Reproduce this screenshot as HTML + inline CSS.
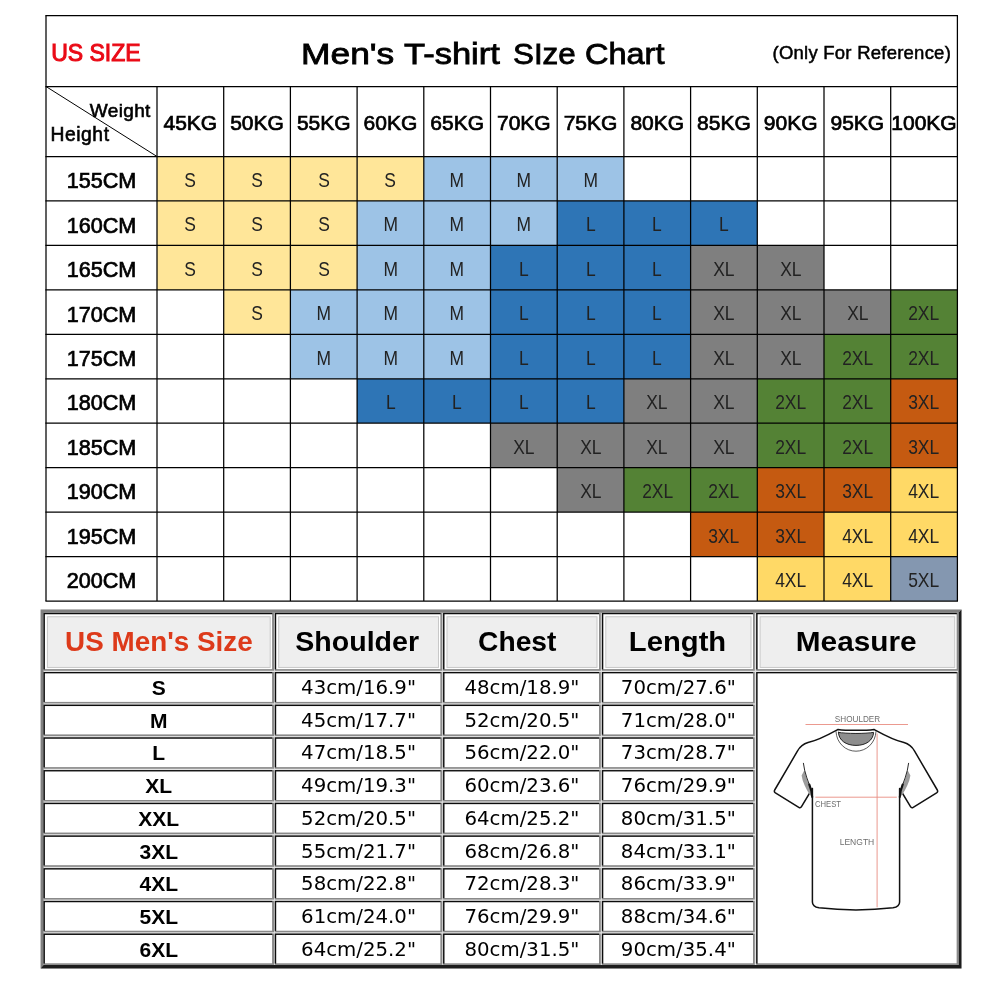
<!DOCTYPE html>
<html lang="en">
<head>
<meta charset="utf-8">
<title>Men's T-shirt Size Chart</title>
<style>
html,body{margin:0;padding:0;background:#fff;}
body{width:1000px;height:1000px;position:relative;overflow:hidden;font-family:"Liberation Sans",sans-serif;color:#000;}
.a{position:absolute;}
.c{position:absolute;text-align:center;white-space:nowrap;}
.kg{font-size:21px;line-height:70px;-webkit-text-stroke:0.7px #000;}
.cm{font-size:21.6px;line-height:44.45px;-webkit-text-stroke:0.7px #000;}
.sz{font-size:21px;line-height:44.45px;color:#222;}
.sz span{display:inline-block;position:relative;top:1.5px;transform:scaleX(0.83);}
svg{position:absolute;left:0;top:0;}
/* second table */
.t2{position:absolute;left:40.5px;top:609.5px;width:921px;height:959px;}
.hc{position:absolute;}
.hc b{position:absolute;left:0;right:0;top:0;bottom:0;text-align:center;font-size:27.5px;font-weight:bold;line-height:57.4px;white-space:nowrap;}
.dc{position:absolute;text-align:center;white-space:nowrap;}
.d{font-size:19.75px;font-family:DejaVu Sans,Liberation Sans,sans-serif;}
.s{font-size:21px;font-weight:bold;}
</style>
</head>
<body>

<div class="c cm" style="left:46px;top:159.2px;width:111px;height:44.45px">155CM</div>
<div class="c sz" style="left:157px;top:156.5px;width:66.7px;height:44.45px;background:#ffe699"><span>S</span></div>
<div class="c sz" style="left:223.7px;top:156.5px;width:66.7px;height:44.45px;background:#ffe699"><span>S</span></div>
<div class="c sz" style="left:290.4px;top:156.5px;width:66.7px;height:44.45px;background:#ffe699"><span>S</span></div>
<div class="c sz" style="left:357.1px;top:156.5px;width:66.7px;height:44.45px;background:#ffe699"><span>S</span></div>
<div class="c sz" style="left:423.8px;top:156.5px;width:66.7px;height:44.45px;background:#9dc3e6"><span>M</span></div>
<div class="c sz" style="left:490.5px;top:156.5px;width:66.7px;height:44.45px;background:#9dc3e6"><span>M</span></div>
<div class="c sz" style="left:557.2px;top:156.5px;width:66.7px;height:44.45px;background:#9dc3e6"><span>M</span></div>
<div class="c cm" style="left:46px;top:203.65px;width:111px;height:44.45px">160CM</div>
<div class="c sz" style="left:157px;top:200.95px;width:66.7px;height:44.45px;background:#ffe699"><span>S</span></div>
<div class="c sz" style="left:223.7px;top:200.95px;width:66.7px;height:44.45px;background:#ffe699"><span>S</span></div>
<div class="c sz" style="left:290.4px;top:200.95px;width:66.7px;height:44.45px;background:#ffe699"><span>S</span></div>
<div class="c sz" style="left:357.1px;top:200.95px;width:66.7px;height:44.45px;background:#9dc3e6"><span>M</span></div>
<div class="c sz" style="left:423.8px;top:200.95px;width:66.7px;height:44.45px;background:#9dc3e6"><span>M</span></div>
<div class="c sz" style="left:490.5px;top:200.95px;width:66.7px;height:44.45px;background:#9dc3e6"><span>M</span></div>
<div class="c sz" style="left:557.2px;top:200.95px;width:66.7px;height:44.45px;background:#2e75b6"><span>L</span></div>
<div class="c sz" style="left:623.9px;top:200.95px;width:66.7px;height:44.45px;background:#2e75b6"><span>L</span></div>
<div class="c sz" style="left:690.6px;top:200.95px;width:66.7px;height:44.45px;background:#2e75b6"><span>L</span></div>
<div class="c cm" style="left:46px;top:248.1px;width:111px;height:44.45px">165CM</div>
<div class="c sz" style="left:157px;top:245.4px;width:66.7px;height:44.45px;background:#ffe699"><span>S</span></div>
<div class="c sz" style="left:223.7px;top:245.4px;width:66.7px;height:44.45px;background:#ffe699"><span>S</span></div>
<div class="c sz" style="left:290.4px;top:245.4px;width:66.7px;height:44.45px;background:#ffe699"><span>S</span></div>
<div class="c sz" style="left:357.1px;top:245.4px;width:66.7px;height:44.45px;background:#9dc3e6"><span>M</span></div>
<div class="c sz" style="left:423.8px;top:245.4px;width:66.7px;height:44.45px;background:#9dc3e6"><span>M</span></div>
<div class="c sz" style="left:490.5px;top:245.4px;width:66.7px;height:44.45px;background:#2e75b6"><span>L</span></div>
<div class="c sz" style="left:557.2px;top:245.4px;width:66.7px;height:44.45px;background:#2e75b6"><span>L</span></div>
<div class="c sz" style="left:623.9px;top:245.4px;width:66.7px;height:44.45px;background:#2e75b6"><span>L</span></div>
<div class="c sz" style="left:690.6px;top:245.4px;width:66.7px;height:44.45px;background:#7f7f7f"><span>XL</span></div>
<div class="c sz" style="left:757.3px;top:245.4px;width:66.7px;height:44.45px;background:#7f7f7f"><span>XL</span></div>
<div class="c cm" style="left:46px;top:292.55px;width:111px;height:44.45px">170CM</div>
<div class="c sz" style="left:223.7px;top:289.85px;width:66.7px;height:44.45px;background:#ffe699"><span>S</span></div>
<div class="c sz" style="left:290.4px;top:289.85px;width:66.7px;height:44.45px;background:#9dc3e6"><span>M</span></div>
<div class="c sz" style="left:357.1px;top:289.85px;width:66.7px;height:44.45px;background:#9dc3e6"><span>M</span></div>
<div class="c sz" style="left:423.8px;top:289.85px;width:66.7px;height:44.45px;background:#9dc3e6"><span>M</span></div>
<div class="c sz" style="left:490.5px;top:289.85px;width:66.7px;height:44.45px;background:#2e75b6"><span>L</span></div>
<div class="c sz" style="left:557.2px;top:289.85px;width:66.7px;height:44.45px;background:#2e75b6"><span>L</span></div>
<div class="c sz" style="left:623.9px;top:289.85px;width:66.7px;height:44.45px;background:#2e75b6"><span>L</span></div>
<div class="c sz" style="left:690.6px;top:289.85px;width:66.7px;height:44.45px;background:#7f7f7f"><span>XL</span></div>
<div class="c sz" style="left:757.3px;top:289.85px;width:66.7px;height:44.45px;background:#7f7f7f"><span>XL</span></div>
<div class="c sz" style="left:824px;top:289.85px;width:66.7px;height:44.45px;background:#7f7f7f"><span>XL</span></div>
<div class="c sz" style="left:890.7px;top:289.85px;width:66.7px;height:44.45px;background:#548235"><span>2XL</span></div>
<div class="c cm" style="left:46px;top:337px;width:111px;height:44.45px">175CM</div>
<div class="c sz" style="left:290.4px;top:334.3px;width:66.7px;height:44.45px;background:#9dc3e6"><span>M</span></div>
<div class="c sz" style="left:357.1px;top:334.3px;width:66.7px;height:44.45px;background:#9dc3e6"><span>M</span></div>
<div class="c sz" style="left:423.8px;top:334.3px;width:66.7px;height:44.45px;background:#9dc3e6"><span>M</span></div>
<div class="c sz" style="left:490.5px;top:334.3px;width:66.7px;height:44.45px;background:#2e75b6"><span>L</span></div>
<div class="c sz" style="left:557.2px;top:334.3px;width:66.7px;height:44.45px;background:#2e75b6"><span>L</span></div>
<div class="c sz" style="left:623.9px;top:334.3px;width:66.7px;height:44.45px;background:#2e75b6"><span>L</span></div>
<div class="c sz" style="left:690.6px;top:334.3px;width:66.7px;height:44.45px;background:#7f7f7f"><span>XL</span></div>
<div class="c sz" style="left:757.3px;top:334.3px;width:66.7px;height:44.45px;background:#7f7f7f"><span>XL</span></div>
<div class="c sz" style="left:824px;top:334.3px;width:66.7px;height:44.45px;background:#548235"><span>2XL</span></div>
<div class="c sz" style="left:890.7px;top:334.3px;width:66.7px;height:44.45px;background:#548235"><span>2XL</span></div>
<div class="c cm" style="left:46px;top:381.45px;width:111px;height:44.45px">180CM</div>
<div class="c sz" style="left:357.1px;top:378.75px;width:66.7px;height:44.45px;background:#2e75b6"><span>L</span></div>
<div class="c sz" style="left:423.8px;top:378.75px;width:66.7px;height:44.45px;background:#2e75b6"><span>L</span></div>
<div class="c sz" style="left:490.5px;top:378.75px;width:66.7px;height:44.45px;background:#2e75b6"><span>L</span></div>
<div class="c sz" style="left:557.2px;top:378.75px;width:66.7px;height:44.45px;background:#2e75b6"><span>L</span></div>
<div class="c sz" style="left:623.9px;top:378.75px;width:66.7px;height:44.45px;background:#7f7f7f"><span>XL</span></div>
<div class="c sz" style="left:690.6px;top:378.75px;width:66.7px;height:44.45px;background:#7f7f7f"><span>XL</span></div>
<div class="c sz" style="left:757.3px;top:378.75px;width:66.7px;height:44.45px;background:#548235"><span>2XL</span></div>
<div class="c sz" style="left:824px;top:378.75px;width:66.7px;height:44.45px;background:#548235"><span>2XL</span></div>
<div class="c sz" style="left:890.7px;top:378.75px;width:66.7px;height:44.45px;background:#c55a11"><span>3XL</span></div>
<div class="c cm" style="left:46px;top:425.9px;width:111px;height:44.45px">185CM</div>
<div class="c sz" style="left:490.5px;top:423.2px;width:66.7px;height:44.45px;background:#7f7f7f"><span>XL</span></div>
<div class="c sz" style="left:557.2px;top:423.2px;width:66.7px;height:44.45px;background:#7f7f7f"><span>XL</span></div>
<div class="c sz" style="left:623.9px;top:423.2px;width:66.7px;height:44.45px;background:#7f7f7f"><span>XL</span></div>
<div class="c sz" style="left:690.6px;top:423.2px;width:66.7px;height:44.45px;background:#7f7f7f"><span>XL</span></div>
<div class="c sz" style="left:757.3px;top:423.2px;width:66.7px;height:44.45px;background:#548235"><span>2XL</span></div>
<div class="c sz" style="left:824px;top:423.2px;width:66.7px;height:44.45px;background:#548235"><span>2XL</span></div>
<div class="c sz" style="left:890.7px;top:423.2px;width:66.7px;height:44.45px;background:#c55a11"><span>3XL</span></div>
<div class="c cm" style="left:46px;top:470.35px;width:111px;height:44.45px">190CM</div>
<div class="c sz" style="left:557.2px;top:467.65px;width:66.7px;height:44.45px;background:#7f7f7f"><span>XL</span></div>
<div class="c sz" style="left:623.9px;top:467.65px;width:66.7px;height:44.45px;background:#548235"><span>2XL</span></div>
<div class="c sz" style="left:690.6px;top:467.65px;width:66.7px;height:44.45px;background:#548235"><span>2XL</span></div>
<div class="c sz" style="left:757.3px;top:467.65px;width:66.7px;height:44.45px;background:#c55a11"><span>3XL</span></div>
<div class="c sz" style="left:824px;top:467.65px;width:66.7px;height:44.45px;background:#c55a11"><span>3XL</span></div>
<div class="c sz" style="left:890.7px;top:467.65px;width:66.7px;height:44.45px;background:#ffd966"><span>4XL</span></div>
<div class="c cm" style="left:46px;top:514.8px;width:111px;height:44.45px">195CM</div>
<div class="c sz" style="left:690.6px;top:512.1px;width:66.7px;height:44.45px;background:#c55a11"><span>3XL</span></div>
<div class="c sz" style="left:757.3px;top:512.1px;width:66.7px;height:44.45px;background:#c55a11"><span>3XL</span></div>
<div class="c sz" style="left:824px;top:512.1px;width:66.7px;height:44.45px;background:#ffd966"><span>4XL</span></div>
<div class="c sz" style="left:890.7px;top:512.1px;width:66.7px;height:44.45px;background:#ffd966"><span>4XL</span></div>
<div class="c cm" style="left:46px;top:559.25px;width:111px;height:44.45px">200CM</div>
<div class="c sz" style="left:757.3px;top:556.55px;width:66.7px;height:44.45px;background:#ffd966"><span>4XL</span></div>
<div class="c sz" style="left:824px;top:556.55px;width:66.7px;height:44.45px;background:#ffd966"><span>4XL</span></div>
<div class="c sz" style="left:890.7px;top:556.55px;width:66.7px;height:44.45px;background:#8497b0"><span>5XL</span></div>
<div class="c kg" style="left:157px;top:86.5px;width:66.7px;height:70px"><span style="position:relative;top:1px">45KG</span></div>
<div class="c kg" style="left:223.7px;top:86.5px;width:66.7px;height:70px"><span style="position:relative;top:1px">50KG</span></div>
<div class="c kg" style="left:290.4px;top:86.5px;width:66.7px;height:70px"><span style="position:relative;top:1px">55KG</span></div>
<div class="c kg" style="left:357.1px;top:86.5px;width:66.7px;height:70px"><span style="position:relative;top:1px">60KG</span></div>
<div class="c kg" style="left:423.8px;top:86.5px;width:66.7px;height:70px"><span style="position:relative;top:1px">65KG</span></div>
<div class="c kg" style="left:490.5px;top:86.5px;width:66.7px;height:70px"><span style="position:relative;top:1px">70KG</span></div>
<div class="c kg" style="left:557.2px;top:86.5px;width:66.7px;height:70px"><span style="position:relative;top:1px">75KG</span></div>
<div class="c kg" style="left:623.9px;top:86.5px;width:66.7px;height:70px"><span style="position:relative;top:1px">80KG</span></div>
<div class="c kg" style="left:690.6px;top:86.5px;width:66.7px;height:70px"><span style="position:relative;top:1px">85KG</span></div>
<div class="c kg" style="left:757.3px;top:86.5px;width:66.7px;height:70px"><span style="position:relative;top:1px">90KG</span></div>
<div class="c kg" style="left:824px;top:86.5px;width:66.7px;height:70px"><span style="position:relative;top:1px">95KG</span></div>
<div class="c kg" style="left:890.7px;top:86.5px;width:66.7px;height:70px"><span style="position:relative;top:1px">100KG</span></div>
<div class="a" id="us" style="left:51.2px;top:38.4px;font-size:23px;line-height:30px;color:#ea0a16;-webkit-text-stroke:1px #ea0a16;white-space:nowrap">US SIZE</div>
<div class="a" id="title" style="left:0;top:34px;font-size:29px;line-height:40px;-webkit-text-stroke:0.8px #000;white-space:nowrap"><span style="position:absolute;left:300.6px;top:0;transform:scaleX(1.22);transform-origin:0 0">Men's</span> <span style="position:absolute;left:403.8px;top:0;transform:scaleX(1.19);transform-origin:0 0">T-shirt</span> <span style="position:absolute;left:513px;top:0;transform:scaleX(1.08);transform-origin:0 0">SIze</span> <span style="position:absolute;left:585px;top:0;transform:scaleX(1.12);transform-origin:0 0">Chart</span></div>
<div class="a" id="ref" style="left:772.5px;top:41px;font-size:18.5px;letter-spacing:0.24px;line-height:24px;-webkit-text-stroke:0.5px #000;white-space:nowrap">(Only For Reference)</div>
<div class="a" id="wt" style="left:89.8px;top:98.5px;font-size:19px;letter-spacing:0.35px;line-height:24px;-webkit-text-stroke:0.6px #000;white-space:nowrap">Weight</div>
<div class="a" id="ht" style="left:50.5px;top:123px;font-size:19.3px;letter-spacing:0.55px;line-height:24px;-webkit-text-stroke:0.6px #000;white-space:nowrap">Height</div>
<svg width="1000" height="1000" viewBox="0 0 1000 1000">
<g stroke="#000" stroke-width="1.25" fill="none">
<line x1="45.4" y1="15.5" x2="958" y2="15.5"/>
<line x1="45.4" y1="86.5" x2="958" y2="86.5"/>
<line x1="45.4" y1="156.5" x2="958" y2="156.5"/>
<line x1="45.4" y1="200.95" x2="958" y2="200.95"/>
<line x1="45.4" y1="245.4" x2="958" y2="245.4"/>
<line x1="45.4" y1="289.85" x2="958" y2="289.85"/>
<line x1="45.4" y1="334.3" x2="958" y2="334.3"/>
<line x1="45.4" y1="378.75" x2="958" y2="378.75"/>
<line x1="45.4" y1="423.2" x2="958" y2="423.2"/>
<line x1="45.4" y1="467.65" x2="958" y2="467.65"/>
<line x1="45.4" y1="512.1" x2="958" y2="512.1"/>
<line x1="45.4" y1="556.55" x2="958" y2="556.55"/>
<line x1="45.4" y1="601" x2="958" y2="601"/>
<line x1="46" y1="15.5" x2="46" y2="601"/>
<line x1="957.4" y1="15.5" x2="957.4" y2="601"/>
<line x1="157" y1="86.5" x2="157" y2="601"/>
<line x1="223.7" y1="86.5" x2="223.7" y2="601"/>
<line x1="290.4" y1="86.5" x2="290.4" y2="601"/>
<line x1="357.1" y1="86.5" x2="357.1" y2="601"/>
<line x1="423.8" y1="86.5" x2="423.8" y2="601"/>
<line x1="490.5" y1="86.5" x2="490.5" y2="601"/>
<line x1="557.2" y1="86.5" x2="557.2" y2="601"/>
<line x1="623.9" y1="86.5" x2="623.9" y2="601"/>
<line x1="690.6" y1="86.5" x2="690.6" y2="601"/>
<line x1="757.3" y1="86.5" x2="757.3" y2="601"/>
<line x1="824" y1="86.5" x2="824" y2="601"/>
<line x1="890.7" y1="86.5" x2="890.7" y2="601"/>
<line x1="46" y1="86.5" x2="157" y2="156.5" stroke-width="1"/>
</g></svg><svg width="1000" height="1000" viewBox="0 0 1000 1000">
<rect x="40.6" y="609.6" width="920.9" height="358.8" fill="#e2e2e2"/>
<polygon points="40.6,609.6 961.5,609.6 958.5,612.8 43.6,612.8 43.6,965.2 40.6,968.4" fill="#808080"/>
<polygon points="961.5,609.6 961.5,968.4 40.6,968.4 43.6,965 958.5,965 958.5,612.8" fill="#1c1c1c"/>
<rect x="43.5" y="612.9" width="230.5" height="57.85" fill="#8a8a8a"/><rect x="43.5" y="612.9" width="228.8" height="56.45" fill="#0c0c0c"/><rect x="44.9" y="614.25" width="227.4" height="55.1" fill="#fff"/><rect x="47.4" y="616.75" width="222.8" height="50.7" fill="#eee" stroke="#c8c8c8" stroke-width="1"/>
<rect x="274.8" y="612.9" width="167.5" height="57.85" fill="#8a8a8a"/><rect x="274.8" y="612.9" width="165.8" height="56.45" fill="#0c0c0c"/><rect x="276.2" y="614.25" width="164.4" height="55.1" fill="#fff"/><rect x="278.7" y="616.75" width="159.8" height="50.7" fill="#eee" stroke="#c8c8c8" stroke-width="1"/>
<rect x="443.1" y="612.9" width="157.7" height="57.85" fill="#8a8a8a"/><rect x="443.1" y="612.9" width="156" height="56.45" fill="#0c0c0c"/><rect x="444.5" y="614.25" width="154.6" height="55.1" fill="#fff"/><rect x="447" y="616.75" width="150" height="50.7" fill="#eee" stroke="#c8c8c8" stroke-width="1"/>
<rect x="601.9" y="612.9" width="152.9" height="57.85" fill="#8a8a8a"/><rect x="601.9" y="612.9" width="151.2" height="56.45" fill="#0c0c0c"/><rect x="603.3" y="614.25" width="149.8" height="55.1" fill="#fff"/><rect x="605.8" y="616.75" width="145.2" height="50.7" fill="#eee" stroke="#c8c8c8" stroke-width="1"/>
<rect x="756.2" y="612.9" width="202.3" height="57.85" fill="#8a8a8a"/><rect x="756.2" y="612.9" width="200.6" height="56.45" fill="#0c0c0c"/><rect x="757.6" y="614.25" width="199.2" height="55.1" fill="#fff"/><rect x="760.1" y="616.75" width="194.6" height="50.7" fill="#eee" stroke="#c8c8c8" stroke-width="1"/>
<rect x="43.5" y="672" width="230.5" height="31.35" fill="#8a8a8a"/><rect x="43.5" y="672" width="228.8" height="29.95" fill="#0c0c0c"/><rect x="44.9" y="673.35" width="227.4" height="28.6" fill="#fff"/>
<rect x="274.8" y="672" width="167.5" height="31.35" fill="#8a8a8a"/><rect x="274.8" y="672" width="165.8" height="29.95" fill="#0c0c0c"/><rect x="276.2" y="673.35" width="164.4" height="28.6" fill="#fff"/>
<rect x="443.1" y="672" width="157.7" height="31.35" fill="#8a8a8a"/><rect x="443.1" y="672" width="156" height="29.95" fill="#0c0c0c"/><rect x="444.5" y="673.35" width="154.6" height="28.6" fill="#fff"/>
<rect x="601.9" y="672" width="152.9" height="31.35" fill="#8a8a8a"/><rect x="601.9" y="672" width="151.2" height="29.95" fill="#0c0c0c"/><rect x="603.3" y="673.35" width="149.8" height="28.6" fill="#fff"/>
<rect x="43.5" y="704.7" width="230.5" height="31.35" fill="#8a8a8a"/><rect x="43.5" y="704.7" width="228.8" height="29.95" fill="#0c0c0c"/><rect x="44.9" y="706.05" width="227.4" height="28.6" fill="#fff"/>
<rect x="274.8" y="704.7" width="167.5" height="31.35" fill="#8a8a8a"/><rect x="274.8" y="704.7" width="165.8" height="29.95" fill="#0c0c0c"/><rect x="276.2" y="706.05" width="164.4" height="28.6" fill="#fff"/>
<rect x="443.1" y="704.7" width="157.7" height="31.35" fill="#8a8a8a"/><rect x="443.1" y="704.7" width="156" height="29.95" fill="#0c0c0c"/><rect x="444.5" y="706.05" width="154.6" height="28.6" fill="#fff"/>
<rect x="601.9" y="704.7" width="152.9" height="31.35" fill="#8a8a8a"/><rect x="601.9" y="704.7" width="151.2" height="29.95" fill="#0c0c0c"/><rect x="603.3" y="706.05" width="149.8" height="28.6" fill="#fff"/>
<rect x="43.5" y="737.4" width="230.5" height="31.35" fill="#8a8a8a"/><rect x="43.5" y="737.4" width="228.8" height="29.95" fill="#0c0c0c"/><rect x="44.9" y="738.75" width="227.4" height="28.6" fill="#fff"/>
<rect x="274.8" y="737.4" width="167.5" height="31.35" fill="#8a8a8a"/><rect x="274.8" y="737.4" width="165.8" height="29.95" fill="#0c0c0c"/><rect x="276.2" y="738.75" width="164.4" height="28.6" fill="#fff"/>
<rect x="443.1" y="737.4" width="157.7" height="31.35" fill="#8a8a8a"/><rect x="443.1" y="737.4" width="156" height="29.95" fill="#0c0c0c"/><rect x="444.5" y="738.75" width="154.6" height="28.6" fill="#fff"/>
<rect x="601.9" y="737.4" width="152.9" height="31.35" fill="#8a8a8a"/><rect x="601.9" y="737.4" width="151.2" height="29.95" fill="#0c0c0c"/><rect x="603.3" y="738.75" width="149.8" height="28.6" fill="#fff"/>
<rect x="43.5" y="770.1" width="230.5" height="31.35" fill="#8a8a8a"/><rect x="43.5" y="770.1" width="228.8" height="29.95" fill="#0c0c0c"/><rect x="44.9" y="771.45" width="227.4" height="28.6" fill="#fff"/>
<rect x="274.8" y="770.1" width="167.5" height="31.35" fill="#8a8a8a"/><rect x="274.8" y="770.1" width="165.8" height="29.95" fill="#0c0c0c"/><rect x="276.2" y="771.45" width="164.4" height="28.6" fill="#fff"/>
<rect x="443.1" y="770.1" width="157.7" height="31.35" fill="#8a8a8a"/><rect x="443.1" y="770.1" width="156" height="29.95" fill="#0c0c0c"/><rect x="444.5" y="771.45" width="154.6" height="28.6" fill="#fff"/>
<rect x="601.9" y="770.1" width="152.9" height="31.35" fill="#8a8a8a"/><rect x="601.9" y="770.1" width="151.2" height="29.95" fill="#0c0c0c"/><rect x="603.3" y="771.45" width="149.8" height="28.6" fill="#fff"/>
<rect x="43.5" y="802.8" width="230.5" height="31.35" fill="#8a8a8a"/><rect x="43.5" y="802.8" width="228.8" height="29.95" fill="#0c0c0c"/><rect x="44.9" y="804.15" width="227.4" height="28.6" fill="#fff"/>
<rect x="274.8" y="802.8" width="167.5" height="31.35" fill="#8a8a8a"/><rect x="274.8" y="802.8" width="165.8" height="29.95" fill="#0c0c0c"/><rect x="276.2" y="804.15" width="164.4" height="28.6" fill="#fff"/>
<rect x="443.1" y="802.8" width="157.7" height="31.35" fill="#8a8a8a"/><rect x="443.1" y="802.8" width="156" height="29.95" fill="#0c0c0c"/><rect x="444.5" y="804.15" width="154.6" height="28.6" fill="#fff"/>
<rect x="601.9" y="802.8" width="152.9" height="31.35" fill="#8a8a8a"/><rect x="601.9" y="802.8" width="151.2" height="29.95" fill="#0c0c0c"/><rect x="603.3" y="804.15" width="149.8" height="28.6" fill="#fff"/>
<rect x="43.5" y="835.5" width="230.5" height="31.35" fill="#8a8a8a"/><rect x="43.5" y="835.5" width="228.8" height="29.95" fill="#0c0c0c"/><rect x="44.9" y="836.85" width="227.4" height="28.6" fill="#fff"/>
<rect x="274.8" y="835.5" width="167.5" height="31.35" fill="#8a8a8a"/><rect x="274.8" y="835.5" width="165.8" height="29.95" fill="#0c0c0c"/><rect x="276.2" y="836.85" width="164.4" height="28.6" fill="#fff"/>
<rect x="443.1" y="835.5" width="157.7" height="31.35" fill="#8a8a8a"/><rect x="443.1" y="835.5" width="156" height="29.95" fill="#0c0c0c"/><rect x="444.5" y="836.85" width="154.6" height="28.6" fill="#fff"/>
<rect x="601.9" y="835.5" width="152.9" height="31.35" fill="#8a8a8a"/><rect x="601.9" y="835.5" width="151.2" height="29.95" fill="#0c0c0c"/><rect x="603.3" y="836.85" width="149.8" height="28.6" fill="#fff"/>
<rect x="43.5" y="868.2" width="230.5" height="31.35" fill="#8a8a8a"/><rect x="43.5" y="868.2" width="228.8" height="29.95" fill="#0c0c0c"/><rect x="44.9" y="869.55" width="227.4" height="28.6" fill="#fff"/>
<rect x="274.8" y="868.2" width="167.5" height="31.35" fill="#8a8a8a"/><rect x="274.8" y="868.2" width="165.8" height="29.95" fill="#0c0c0c"/><rect x="276.2" y="869.55" width="164.4" height="28.6" fill="#fff"/>
<rect x="443.1" y="868.2" width="157.7" height="31.35" fill="#8a8a8a"/><rect x="443.1" y="868.2" width="156" height="29.95" fill="#0c0c0c"/><rect x="444.5" y="869.55" width="154.6" height="28.6" fill="#fff"/>
<rect x="601.9" y="868.2" width="152.9" height="31.35" fill="#8a8a8a"/><rect x="601.9" y="868.2" width="151.2" height="29.95" fill="#0c0c0c"/><rect x="603.3" y="869.55" width="149.8" height="28.6" fill="#fff"/>
<rect x="43.5" y="900.9" width="230.5" height="31.35" fill="#8a8a8a"/><rect x="43.5" y="900.9" width="228.8" height="29.95" fill="#0c0c0c"/><rect x="44.9" y="902.25" width="227.4" height="28.6" fill="#fff"/>
<rect x="274.8" y="900.9" width="167.5" height="31.35" fill="#8a8a8a"/><rect x="274.8" y="900.9" width="165.8" height="29.95" fill="#0c0c0c"/><rect x="276.2" y="902.25" width="164.4" height="28.6" fill="#fff"/>
<rect x="443.1" y="900.9" width="157.7" height="31.35" fill="#8a8a8a"/><rect x="443.1" y="900.9" width="156" height="29.95" fill="#0c0c0c"/><rect x="444.5" y="902.25" width="154.6" height="28.6" fill="#fff"/>
<rect x="601.9" y="900.9" width="152.9" height="31.35" fill="#8a8a8a"/><rect x="601.9" y="900.9" width="151.2" height="29.95" fill="#0c0c0c"/><rect x="603.3" y="902.25" width="149.8" height="28.6" fill="#fff"/>
<rect x="43.5" y="933.6" width="230.5" height="31.35" fill="#8a8a8a"/><rect x="43.5" y="933.6" width="228.8" height="29.95" fill="#0c0c0c"/><rect x="44.9" y="934.95" width="227.4" height="28.6" fill="#fff"/>
<rect x="274.8" y="933.6" width="167.5" height="31.35" fill="#8a8a8a"/><rect x="274.8" y="933.6" width="165.8" height="29.95" fill="#0c0c0c"/><rect x="276.2" y="934.95" width="164.4" height="28.6" fill="#fff"/>
<rect x="443.1" y="933.6" width="157.7" height="31.35" fill="#8a8a8a"/><rect x="443.1" y="933.6" width="156" height="29.95" fill="#0c0c0c"/><rect x="444.5" y="934.95" width="154.6" height="28.6" fill="#fff"/>
<rect x="601.9" y="933.6" width="152.9" height="31.35" fill="#8a8a8a"/><rect x="601.9" y="933.6" width="151.2" height="29.95" fill="#0c0c0c"/><rect x="603.3" y="934.95" width="149.8" height="28.6" fill="#fff"/>
<rect x="756.2" y="672" width="202.3" height="292.95" fill="#8a8a8a"/><rect x="756.2" y="672" width="200.6" height="291.55" fill="#0c0c0c"/><rect x="757.6" y="673.35" width="199.2" height="290.2" fill="#fff"/>
</svg>
<div class="hc" style="left:43.5px;top:612.9px;width:230.5px;height:57.85px"><b style="transform:translateX(-0.35px) scaleX(1.012);color:#dd3a1a">US Men's Size</b></div>
<div class="hc" style="left:274.8px;top:612.9px;width:167.5px;height:57.85px"><b style="transform:translateX(-1.6px) scaleX(1.038)">Shoulder</b></div>
<div class="hc" style="left:443.1px;top:612.9px;width:157.7px;height:57.85px"><b style="transform:translateX(-4.6px) scaleX(1.025)">Chest</b></div>
<div class="hc" style="left:601.9px;top:612.9px;width:152.9px;height:57.85px"><b style="transform:translateX(-0.9px) scaleX(1.062)">Length</b></div>
<div class="hc" style="left:756.2px;top:612.9px;width:202.3px;height:57.85px"><b style="transform:translateX(-0.95px) scaleX(1.082)">Measure</b></div>
<div class="dc s" style="left:43.5px;top:672px;width:230.5px;height:31.35px;line-height:31.35px">S</div>
<div class="dc d" style="left:274.8px;top:672px;width:167.5px;height:31.35px;line-height:31.35px">43cm/16.9&quot;</div>
<div class="dc d" style="left:443.1px;top:672px;width:157.7px;height:31.35px;line-height:31.35px">48cm/18.9&quot;</div>
<div class="dc d" style="left:601.9px;top:672px;width:152.9px;height:31.35px;line-height:31.35px">70cm/27.6&quot;</div>
<div class="dc s" style="left:43.5px;top:704.7px;width:230.5px;height:31.35px;line-height:31.35px">M</div>
<div class="dc d" style="left:274.8px;top:704.7px;width:167.5px;height:31.35px;line-height:31.35px">45cm/17.7&quot;</div>
<div class="dc d" style="left:443.1px;top:704.7px;width:157.7px;height:31.35px;line-height:31.35px">52cm/20.5&quot;</div>
<div class="dc d" style="left:601.9px;top:704.7px;width:152.9px;height:31.35px;line-height:31.35px">71cm/28.0&quot;</div>
<div class="dc s" style="left:43.5px;top:737.4px;width:230.5px;height:31.35px;line-height:31.35px">L</div>
<div class="dc d" style="left:274.8px;top:737.4px;width:167.5px;height:31.35px;line-height:31.35px">47cm/18.5&quot;</div>
<div class="dc d" style="left:443.1px;top:737.4px;width:157.7px;height:31.35px;line-height:31.35px">56cm/22.0&quot;</div>
<div class="dc d" style="left:601.9px;top:737.4px;width:152.9px;height:31.35px;line-height:31.35px">73cm/28.7&quot;</div>
<div class="dc s" style="left:43.5px;top:770.1px;width:230.5px;height:31.35px;line-height:31.35px">XL</div>
<div class="dc d" style="left:274.8px;top:770.1px;width:167.5px;height:31.35px;line-height:31.35px">49cm/19.3&quot;</div>
<div class="dc d" style="left:443.1px;top:770.1px;width:157.7px;height:31.35px;line-height:31.35px">60cm/23.6&quot;</div>
<div class="dc d" style="left:601.9px;top:770.1px;width:152.9px;height:31.35px;line-height:31.35px">76cm/29.9&quot;</div>
<div class="dc s" style="left:43.5px;top:802.8px;width:230.5px;height:31.35px;line-height:31.35px">XXL</div>
<div class="dc d" style="left:274.8px;top:802.8px;width:167.5px;height:31.35px;line-height:31.35px">52cm/20.5&quot;</div>
<div class="dc d" style="left:443.1px;top:802.8px;width:157.7px;height:31.35px;line-height:31.35px">64cm/25.2&quot;</div>
<div class="dc d" style="left:601.9px;top:802.8px;width:152.9px;height:31.35px;line-height:31.35px">80cm/31.5&quot;</div>
<div class="dc s" style="left:43.5px;top:835.5px;width:230.5px;height:31.35px;line-height:31.35px">3XL</div>
<div class="dc d" style="left:274.8px;top:835.5px;width:167.5px;height:31.35px;line-height:31.35px">55cm/21.7&quot;</div>
<div class="dc d" style="left:443.1px;top:835.5px;width:157.7px;height:31.35px;line-height:31.35px">68cm/26.8&quot;</div>
<div class="dc d" style="left:601.9px;top:835.5px;width:152.9px;height:31.35px;line-height:31.35px">84cm/33.1&quot;</div>
<div class="dc s" style="left:43.5px;top:868.2px;width:230.5px;height:31.35px;line-height:31.35px">4XL</div>
<div class="dc d" style="left:274.8px;top:868.2px;width:167.5px;height:31.35px;line-height:31.35px">58cm/22.8&quot;</div>
<div class="dc d" style="left:443.1px;top:868.2px;width:157.7px;height:31.35px;line-height:31.35px">72cm/28.3&quot;</div>
<div class="dc d" style="left:601.9px;top:868.2px;width:152.9px;height:31.35px;line-height:31.35px">86cm/33.9&quot;</div>
<div class="dc s" style="left:43.5px;top:900.9px;width:230.5px;height:31.35px;line-height:31.35px">5XL</div>
<div class="dc d" style="left:274.8px;top:900.9px;width:167.5px;height:31.35px;line-height:31.35px">61cm/24.0&quot;</div>
<div class="dc d" style="left:443.1px;top:900.9px;width:157.7px;height:31.35px;line-height:31.35px">76cm/29.9&quot;</div>
<div class="dc d" style="left:601.9px;top:900.9px;width:152.9px;height:31.35px;line-height:31.35px">88cm/34.6&quot;</div>
<div class="dc s" style="left:43.5px;top:933.6px;width:230.5px;height:31.35px;line-height:31.35px">6XL</div>
<div class="dc d" style="left:274.8px;top:933.6px;width:167.5px;height:31.35px;line-height:31.35px">64cm/25.2&quot;</div>
<div class="dc d" style="left:443.1px;top:933.6px;width:157.7px;height:31.35px;line-height:31.35px">80cm/31.5&quot;</div>
<div class="dc d" style="left:601.9px;top:933.6px;width:152.9px;height:31.35px;line-height:31.35px">90cm/35.4&quot;</div><svg id="tee" width="1000" height="1000" viewBox="0 0 1000 1000">
<g fill="none" stroke-linejoin="round" stroke-linecap="round">
<path d="M838 729.4 C830 733.8 820 739.6 808 742.6 C803.4 743.8 800 746.6 797.4 751.2 L774.7 790 Q773.7 791.8 775.4 792.9 L798.8 807.3 Q800.5 808.3 801.5 806.6 L812.4 788.5 L812.4 902 Q812.4 906.8 819 907.8 Q837 909.9 856 909.9 Q875 909.9 893 907.8 Q899.6 906.8 899.6 902 L899.6 788.5 L910.5 806.6 Q911.5 808.3 913.2 807.3 L936.6 792.9 Q938.3 791.8 937.3 790 L914.6 751.2 C912 746.6 908.6 743.8 904 742.6 C892 739.6 882 733.8 874 729.4 C866 730.6 846 730.6 838 729.4 Z" fill="#fff" stroke="#111" stroke-width="1.5"/>
<path d="M801.6 775.5 C802.5 782 806 789 810.5 796 L812.2 790 C809 785 806.5 780 804.5 770 Z" fill="#9c9c9c" stroke="none"/>
<path d="M910.4 775.5 C909.5 782 906 789 901.5 796 L899.8 790 C903 785 905.5 780 907.5 770 Z" fill="#9c9c9c" stroke="none"/>
<path d="M803.4 763.3 C804.5 773 808.5 783 812.2 791.5" stroke="#111" stroke-width="0.9"/>
<path d="M908.6 763.3 C907.5 773 903.5 783 899.8 791.5" stroke="#111" stroke-width="0.9"/>
<path d="M809.3 784.5 C810.8 788 811.8 792 812.2 797" stroke="#111" stroke-width="2.1"/>
<path d="M902.7 784.5 C901.2 788 900.2 792 899.8 797" stroke="#111" stroke-width="2.1"/>
<path d="M836 731.6 C836.6 743.5 846 751.2 856 751.2 C866 751.2 875.4 743.5 876 731.6" stroke="#333" stroke-width="0.8"/>
<path d="M838.4 732.4 C846 733.8 866 733.8 873.6 732.4 C873.2 740.4 866 745.4 856 745.4 C846 745.4 838.8 740.4 838.4 732.4 Z" fill="#8e8e8e" stroke="#222" stroke-width="1"/>
</g>
<g stroke="#e98d82" stroke-width="0.9" fill="none">
<line x1="805.5" y1="724.5" x2="908" y2="724.5"/>
<line x1="877.1" y1="733.5" x2="877.1" y2="907.3"/>
<line x1="815.4" y1="797.2" x2="896.8" y2="797.2"/>
</g>
<g fill="#6e6e6e" font-family="Liberation Sans, sans-serif" font-size="9.2">
<text x="834.8" y="721.9" textLength="45.4" lengthAdjust="spacingAndGlyphs">SHOULDER</text>
<text x="815" y="807.4" textLength="26" lengthAdjust="spacingAndGlyphs">CHEST</text>
<text x="839.7" y="844.9" textLength="34.6" lengthAdjust="spacingAndGlyphs">LENGTH</text>
</g>
</svg>
</body>
</html>
